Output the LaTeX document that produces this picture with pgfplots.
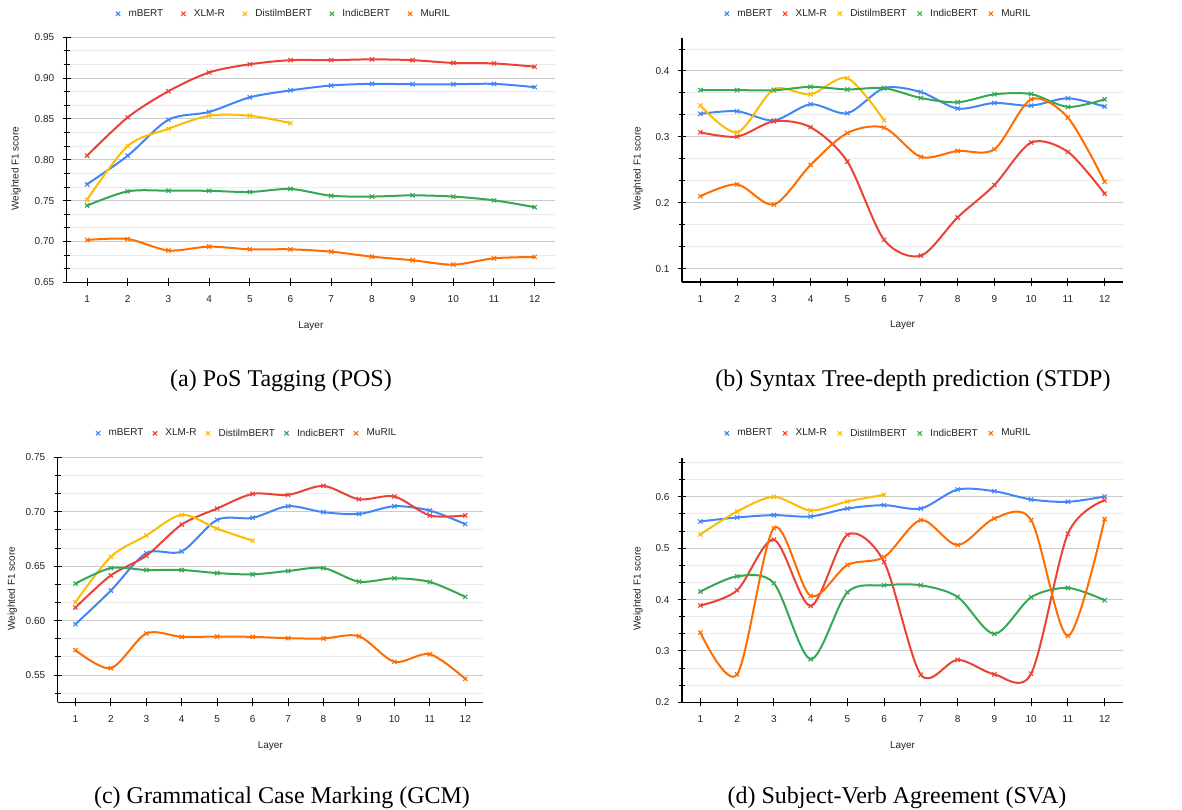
\documentclass[border=0pt]{standalone}
\usepackage{pgfplots}
\pgfplotsset{compat=1.18}
\usepackage{fontspec}
\setmainfont{Liberation Sans}
\newfontfamily\capfont{Liberation Serif}
\definecolor{cmb}{HTML}{4285F4}
\definecolor{cxl}{HTML}{EA4335}
\definecolor{cdi}{HTML}{FBBC04}
\definecolor{cin}{HTML}{34A853}
\definecolor{cmu}{HTML}{FF6D01}
\definecolor{ctxt}{HTML}{222222}
\pgfplotsset{
  ser/.style={color=#1, mark=x, line width=2pt, smooth, mark size=3pt, mark options={line width=1.1pt, solid}},
  panel/.style={
    scale only axis,
    xmin=0.5, xmax=12.5, xtick={1,...,12},
    axis x line=bottom, axis y line=left,
    axis line style={-, line width=1.2pt, black},
    tick align=center, major tick length=8pt, minor tick length=6pt,
    tick style={black, line width=1pt},
    ymajorgrids, yminorgrids,
    major grid style={draw=black!20, line width=1pt},
    minor grid style={draw=black!8, line width=1pt},
    /pgf/number format/assume math mode=true,
    font=\fontsize{10}{12}\selectfont,
    ticklabel style={font=\fontsize{10}{12}\selectfont, text=ctxt},
    xticklabel style={yshift=-6pt},
    yticklabel style={xshift=-5pt},
    label style={font=\fontsize{10}{12}\selectfont, text=ctxt},
    xlabel={Layer}, ylabel={Weighted F1 score},
    legend columns=-1,
    legend style={draw=none, fill=none, anchor=center, font=\fontsize{10}{12}\selectfont, text=ctxt,
      nodes={inner sep=1pt}},
    legend image code/.code={\draw[##1,sharp plot] plot coordinates {(0pt,0pt)}; \path[draw=none,fill=none] (-3pt,0pt) (9.5pt,0pt);},
  },
  lsep/.style={legend style={/tikz/every even column/.append style={column sep=#1}}},
}
\begin{document}
\begin{tikzpicture}[x=1pt,y=1pt]
\useasboundingbox (0,0) rectangle (1182,-809);
% (a) POS
\begin{axis}[panel, lsep=16pt, at={(66.7pt,-282.3pt)}, anchor=south west, width=488.3pt, height=245pt,
  ymin=0.65, ymax=0.95, ytick={0.65,0.70,...,0.951},
  minor ytick={0.6667,0.6833,0.7167,0.7333,0.7667,0.7833,0.8167,0.8333,0.8667,0.8833,0.9167,0.9333},
  yticklabel style={/pgf/number format/.cd, fixed, fixed zerofill, precision=2},
  xlabel style={at={(axis description cs:0.5,-0.177)}, anchor=center},
  ylabel style={at={(axis description cs:-0.104,0.464)}, anchor=center},
  legend style={at={(0.443,1.096)}}]
\addplot[ser=cmb] coordinates {(1,0.770)(2,0.805)(3,0.849)(4,0.8586)(5,0.8765)(6,0.885)(7,0.891)(8,0.893)(9,0.8925)(10,0.8925)(11,0.893)(12,0.889)};
\addlegendentry{mBERT}
\addplot[ser=cxl] coordinates {(1,0.805)(2,0.852)(3,0.884)(4,0.907)(5,0.917)(6,0.922)(7,0.922)(8,0.923)(9,0.922)(10,0.9186)(11,0.918)(12,0.914)};
\addlegendentry{XLM-R}
\addplot[ser=cdi] coordinates {(1,0.751)(2,0.817)(3,0.838)(4,0.854)(5,0.854)(6,0.845)};
\addlegendentry{DistilmBERT}
\addplot[ser=cin] coordinates {(1,0.744)(2,0.7614)(3,0.7622)(4,0.762)(5,0.7606)(6,0.7643)(7,0.756)(8,0.755)(9,0.7565)(10,0.755)(11,0.7504)(12,0.742)};
\addlegendentry{IndicBERT}
\addplot[ser=cmu] coordinates {(1,0.7018)(2,0.703)(3,0.689)(4,0.6937)(5,0.6904)(6,0.6904)(7,0.6875)(8,0.6814)(9,0.677)(10,0.6716)(11,0.6794)(12,0.681)};
\addlegendentry{MuRIL}
\end{axis}
% (b) STDP
\begin{axis}[panel, lsep=9pt, at={(682pt,-282pt)}, anchor=south west, width=441pt, height=244pt,
  ymin=0.08, ymax=0.45, ytick={0.1,0.2,0.3,0.4},
  minor ytick={0.1333,0.1667,0.2333,0.2667,0.3333,0.3667,0.4333},
  yticklabel style={/pgf/number format/.cd, fixed, precision=1},
  xlabel style={at={(axis description cs:0.5,-0.178)}, anchor=center},
  ylabel style={at={(axis description cs:-0.0998,0.464)}, anchor=center},
  legend style={at={(0.444,1.0996)}}]
\addplot[ser=cmb] coordinates {(1,0.335)(2,0.339)(3,0.325)(4,0.3495)(5,0.336)(6,0.374)(7,0.368)(8,0.343)(9,0.3515)(10,0.3475)(11,0.3586)(12,0.346)};
\addlegendentry{mBERT}
\addplot[ser=cxl] coordinates {(1,0.307)(2,0.3005)(3,0.3237)(4,0.3146)(5,0.2626)(6,0.144)(7,0.120)(8,0.178)(9,0.227)(10,0.2914)(11,0.2773)(12,0.214)};
\addlegendentry{XLM-R}
\addplot[ser=cdi] coordinates {(1,0.3475)(2,0.307)(3,0.372)(4,0.3646)(5,0.389)(6,0.325)};
\addlegendentry{DistilmBERT}
\addplot[ser=cin] coordinates {(1,0.371)(2,0.371)(3,0.3707)(4,0.376)(5,0.372)(6,0.374)(7,0.359)(8,0.3525)(9,0.3646)(10,0.365)(11,0.3455)(12,0.357)};
\addlegendentry{IndicBERT}
\addplot[ser=cmu] coordinates {(1,0.210)(2,0.228)(3,0.1975)(4,0.2576)(5,0.306)(6,0.314)(7,0.2697)(8,0.2788)(9,0.2813)(10,0.357)(11,0.3293)(12,0.232)};
\addlegendentry{MuRIL}
\end{axis}
% (c) GCM
\begin{axis}[panel, lsep=7.5pt, at={(57.7pt,-702.3pt)}, anchor=south west, width=425.3pt, height=245pt,
  ymin=0.525, ymax=0.75, ytick={0.55,0.60,...,0.751},
  minor ytick={0.5333,0.5667,0.5833,0.6167,0.6333,0.6667,0.6833,0.7167,0.7333},
  yticklabel style={/pgf/number format/.cd, fixed, fixed zerofill, precision=2},
  xlabel style={at={(axis description cs:0.5,-0.177)}, anchor=center},
  ylabel style={at={(axis description cs:-0.1067,0.464)}, anchor=center},
  legend style={at={(0.443,1.098)}}]
\addplot[ser=cmb] coordinates {(1,0.5967)(2,0.6276)(3,0.662)(4,0.6636)(5,0.6926)(6,0.6944)(7,0.7051)(8,0.6996)(9,0.698)(10,0.7051)(11,0.7011)(12,0.6886)};
\addlegendentry{mBERT}
\addplot[ser=cxl] coordinates {(1,0.612)(2,0.6416)(3,0.6596)(4,0.6883)(5,0.703)(6,0.7164)(7,0.7155)(8,0.7237)(9,0.7115)(10,0.714)(11,0.6966)(12,0.6966)};
\addlegendentry{XLM-R}
\addplot[ser=cdi] coordinates {(1,0.6169)(2,0.6587)(3,0.6782)(4,0.6972)(5,0.6844)(6,0.6734)};
\addlegendentry{DistilmBERT}
\addplot[ser=cin] coordinates {(1,0.634)(2,0.6483)(3,0.6465)(4,0.6465)(5,0.6437)(6,0.6425)(7,0.6456)(8,0.6483)(9,0.6358)(10,0.6389)(11,0.6355)(12,0.6218)};
\addlegendentry{IndicBERT}
\addplot[ser=cmu] coordinates {(1,0.5729)(2,0.5564)(3,0.5882)(4,0.5851)(5,0.5854)(6,0.5851)(7,0.5839)(8,0.5836)(9,0.5857)(10,0.5622)(11,0.5692)(12,0.5466)};
\addlegendentry{MuRIL}
\end{axis}
% (d) SVA
\begin{axis}[panel, lsep=9pt, at={(682pt,-702.3pt)}, anchor=south west, width=441pt, height=244pt,
  ymin=0.2, ymax=0.675, ytick={0.2,0.3,0.4,0.5,0.6},
  minor ytick={0.2333,0.2667,0.3333,0.3667,0.4333,0.4667,0.5333,0.5667,0.6333,0.6667},
  yticklabel style={/pgf/number format/.cd, fixed, precision=1},
  xlabel style={at={(axis description cs:0.5,-0.178)}, anchor=center},
  ylabel style={at={(axis description cs:-0.0998,0.4656)}, anchor=center},
  legend style={at={(0.444,1.1025)}}]
\addplot[ser=cmb] coordinates {(1,0.5521)(2,0.5599)(3,0.5644)(4,0.5618)(5,0.5773)(6,0.5838)(7,0.5773)(8,0.6142)(9,0.611)(10,0.5948)(11,0.5903)(12,0.6006)};
\addlegendentry{mBERT}
\addplot[ser=cxl] coordinates {(1,0.3884)(2,0.4181)(3,0.5165)(4,0.3877)(5,0.5262)(6,0.4731)(7,0.2537)(8,0.2828)(9,0.2544)(10,0.2557)(11,0.5282)(12,0.5935)};
\addlegendentry{XLM-R}
\addplot[ser=cdi] coordinates {(1,0.5269)(2,0.5715)(3,0.600)(4,0.5735)(5,0.591)(6,0.6039)};
\addlegendentry{DistilmBERT}
\addplot[ser=cin] coordinates {(1,0.4155)(2,0.4453)(3,0.4317)(4,0.2841)(5,0.4142)(6,0.4278)(7,0.4278)(8,0.4052)(9,0.3333)(10,0.4045)(11,0.4227)(12,0.3987)};
\addlegendentry{IndicBERT}
\addplot[ser=cmu] coordinates {(1,0.3359)(2,0.2544)(3,0.5392)(4,0.4071)(5,0.4673)(6,0.4828)(7,0.5547)(8,0.5061)(9,0.5579)(10,0.5547)(11,0.3294)(12,0.5566)};
\addlegendentry{MuRIL}
\end{axis}
% captions
\node[font=\capfont\fontsize{24}{28}\selectfont, anchor=base] at (281,-386) {(a) PoS Tagging (POS)};
\node[font=\capfont\fontsize{24}{28}\selectfont, anchor=base] at (913,-386) {(b) Syntax Tree-depth prediction (STDP)};
\node[font=\capfont\fontsize{24}{28}\selectfont, anchor=base] at (282,-803) {(c) Grammatical Case Marking (GCM)};
\node[font=\capfont\fontsize{24}{28}\selectfont, anchor=base] at (897,-803) {(d) Subject-Verb Agreement (SVA)};
\end{tikzpicture}
\end{document}
